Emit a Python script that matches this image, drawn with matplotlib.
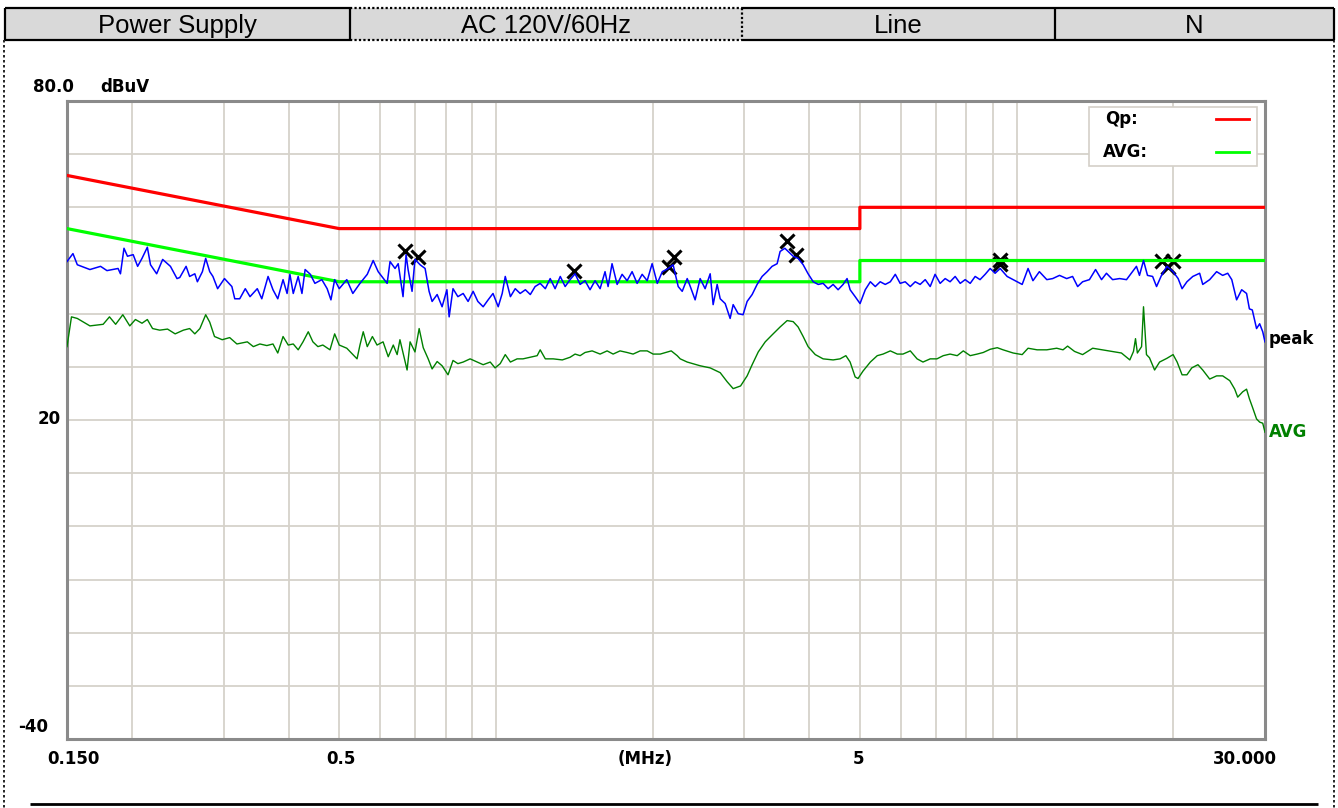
import numpy as np
import matplotlib
matplotlib.use("Agg")
import matplotlib.pyplot as plt
from matplotlib.patches import Rectangle
from matplotlib.ticker import FixedLocator, NullLocator

# ── Header row ────────────────────────────────────────────────────────────────
HEADER_TEXT = ["Power Supply", "AC 120V/60Hz", "Line", "N"]

# ── Limit lines (dBuV vs MHz) ─────────────────────────────────────────────────
qp_lim_f = [0.15, 0.5, 5.0, 5.0, 30.0]
qp_lim_db = [66, 56, 56, 60, 60]
avg_lim_f = [0.15, 0.5, 5.0, 5.0, 30.0]
avg_lim_db = [56, 46, 46, 50, 50]

# ── Peak trace (blue) ─────────────────────────────────────────────────────────
peak_f = [
    0.150, 0.154, 0.157, 0.166, 0.174, 0.179, 0.188, 0.190, 0.193, 0.196,
    0.201, 0.205, 0.209, 0.214, 0.217, 0.223, 0.229, 0.237, 0.244, 0.247,
    0.254, 0.258, 0.264, 0.267, 0.273, 0.277, 0.282, 0.286, 0.292, 0.301,
    0.311, 0.315, 0.322, 0.330, 0.337, 0.348, 0.355, 0.365, 0.373, 0.381,
    0.390, 0.397, 0.402, 0.408, 0.417, 0.424, 0.430, 0.440, 0.449, 0.463,
    0.474, 0.482, 0.490, 0.500, 0.517, 0.531, 0.548, 0.566, 0.581, 0.594,
    0.618, 0.626, 0.640, 0.649, 0.663, 0.672, 0.678, 0.690, 0.699, 0.715,
    0.731, 0.744, 0.754, 0.771, 0.788, 0.805, 0.813, 0.827, 0.845, 0.865,
    0.884, 0.904, 0.923, 0.945, 0.966, 0.987, 1.010, 1.028, 1.042, 1.066,
    1.089, 1.113, 1.139, 1.164, 1.189, 1.216, 1.244, 1.271, 1.299, 1.329,
    1.358, 1.388, 1.419, 1.451, 1.483, 1.516, 1.550, 1.585, 1.620, 1.642,
    1.671, 1.709, 1.747, 1.786, 1.826, 1.867, 1.909, 1.952, 1.995, 2.041,
    2.087, 2.143, 2.189, 2.239, 2.279, 2.330, 2.362, 2.413, 2.467, 2.522,
    2.579, 2.613, 2.660, 2.696, 2.756, 2.817, 2.855, 2.919, 2.983, 3.037,
    3.105, 3.174, 3.245, 3.318, 3.391, 3.468, 3.514, 3.588, 3.641, 3.723,
    3.805, 3.891, 3.977, 4.068, 4.159, 4.250, 4.346, 4.442, 4.541, 4.643,
    4.725, 4.789, 4.897, 5.004, 5.121, 5.237, 5.353, 5.470, 5.594, 5.721,
    5.848, 5.975, 6.110, 6.249, 6.387, 6.527, 6.676, 6.824, 6.973, 7.131,
    7.292, 7.452, 7.621, 7.793, 7.966, 8.145, 8.326, 8.507, 8.702, 8.896,
    9.094, 9.299, 9.590, 9.85, 10.25, 10.52, 10.75, 11.06, 11.43, 11.73,
    12.09, 12.48, 12.81, 13.10, 13.39, 13.80, 14.18, 14.56, 14.88, 15.29,
    15.77, 16.26, 16.70, 16.99, 17.22, 17.53, 17.84, 18.25, 18.57, 18.98,
    19.44, 19.98, 20.43, 20.79, 21.24, 21.80, 22.47, 22.78, 23.49, 24.22,
    24.88, 25.44, 25.90, 26.46, 27.06, 27.65, 28.0, 28.36, 28.9, 29.3,
    29.7, 30.0,
]
peak_db = [
    49.8, 51.3, 49.2, 48.3, 48.9, 48.1, 48.5, 47.5, 52.3, 50.8,
    51.1, 48.9, 50.4, 52.5, 49.2, 47.5, 50.2, 48.9, 46.6, 46.8,
    48.9, 47.0, 47.5, 46.0, 47.9, 50.4, 47.9, 47.0, 44.7, 46.6,
    45.1, 42.8, 42.8, 44.7, 43.2, 44.7, 42.8, 47.0, 44.5, 42.8,
    46.4, 43.8, 47.4, 43.8, 47.0, 43.8, 48.3, 47.4, 45.7, 46.4,
    44.7, 42.6, 46.4, 44.7, 46.4, 43.8, 45.7, 47.4, 50.0, 47.9,
    45.7, 49.8, 48.5, 49.4, 43.2, 51.1, 48.3, 44.2, 50.2, 49.2,
    48.5, 44.2, 42.3, 43.6, 41.3, 44.5, 39.4, 44.7, 43.2, 43.8,
    42.3, 44.2, 42.3, 41.3, 42.6, 43.8, 41.3, 43.8, 47.0, 43.2,
    44.7, 43.8, 44.5, 43.6, 45.1, 45.7, 44.7, 46.6, 44.7, 47.0,
    45.1, 46.4, 47.5, 45.5, 46.2, 44.5, 46.2, 44.7, 47.9, 45.1,
    49.4, 45.5, 47.4, 46.2, 47.9, 45.7, 47.4, 46.2, 49.4, 45.7,
    47.9, 48.5, 49.2, 45.1, 44.2, 46.6, 45.1, 42.6, 46.6, 44.7,
    47.5, 41.7, 45.5, 42.8, 41.9, 39.1, 41.7, 40.0, 39.8, 42.3,
    43.6, 45.5, 47.0, 47.9, 48.9, 49.4, 51.7, 52.3, 51.7, 50.8,
    50.4, 49.2, 47.5, 46.0, 45.5, 45.7, 44.7, 45.5, 44.5, 45.5,
    46.6, 44.5, 43.2, 41.9, 44.5, 46.0, 45.1, 46.0, 45.5, 46.0,
    47.4, 45.7, 46.0, 45.1, 46.0, 45.5, 46.4, 45.1, 47.4, 45.7,
    46.6, 46.0, 47.0, 45.7, 46.4, 45.7, 47.0, 46.4, 47.4, 48.5,
    47.6, 48.5, 47.0, 46.4, 45.5, 48.5, 46.2, 47.9, 46.4, 46.6,
    47.2, 46.6, 47.0, 45.1, 46.0, 46.4, 48.3, 46.4, 47.6, 46.4,
    46.6, 46.4, 47.9, 48.9, 47.2, 50.0, 47.2, 47.0, 45.1, 47.2,
    48.9, 47.9, 46.6, 44.7, 46.0, 47.0, 47.6, 45.5, 46.4, 47.9,
    47.2, 47.6, 46.4, 42.6, 44.5, 43.8, 40.9, 40.7, 37.2, 38.1,
    36.6, 34.7,
]

# ── Average trace (dark green) ────────────────────────────────────────────────
avg_f = [
    0.150, 0.153, 0.157, 0.166, 0.176, 0.181, 0.186, 0.192, 0.198, 0.203,
    0.209, 0.214, 0.219, 0.226, 0.234, 0.242, 0.251, 0.258, 0.264, 0.270,
    0.277, 0.282, 0.288, 0.298, 0.308, 0.318, 0.333, 0.342, 0.352, 0.363,
    0.373, 0.381, 0.390, 0.399, 0.408, 0.417, 0.426, 0.436, 0.445, 0.455,
    0.465, 0.480, 0.490, 0.500, 0.517, 0.529, 0.541, 0.548, 0.556, 0.566,
    0.579, 0.591, 0.607, 0.621, 0.635, 0.646, 0.654, 0.663, 0.675, 0.684,
    0.699, 0.712, 0.725, 0.741, 0.754, 0.771, 0.788, 0.809, 0.827, 0.845,
    0.865, 0.892, 0.920, 0.945, 0.975, 0.996, 1.019, 1.042, 1.066, 1.098,
    1.127, 1.164, 1.200, 1.216, 1.244, 1.288, 1.341, 1.388, 1.419, 1.451,
    1.483, 1.530, 1.585, 1.635, 1.679, 1.731, 1.786, 1.834, 1.892, 1.952,
    2.004, 2.068, 2.171, 2.229, 2.259, 2.330, 2.467, 2.579, 2.696, 2.780,
    2.855, 2.950, 3.037, 3.105, 3.190, 3.290, 3.391, 3.514, 3.625, 3.723,
    3.805, 3.891, 3.977, 4.105, 4.250, 4.442, 4.580, 4.700, 4.789, 4.897,
    4.960, 5.070, 5.237, 5.400, 5.540, 5.721, 5.900, 6.050, 6.249, 6.440,
    6.610, 6.824, 7.030, 7.230, 7.452, 7.690, 7.900, 8.145, 8.400, 8.630,
    8.896, 9.180, 9.420, 9.850, 10.25, 10.52, 10.95, 11.43, 11.94, 12.28,
    12.53, 12.92, 13.39, 14.00, 14.62, 15.29, 15.90, 16.50, 16.77, 16.92,
    17.06, 17.38, 17.53, 17.76, 18.00, 18.41, 18.82, 19.44, 19.98, 20.34,
    20.79, 21.24, 21.70, 22.30, 22.78, 23.49, 24.22, 24.88, 25.67, 26.24,
    26.59, 27.18, 27.65, 28.00, 28.36, 28.90, 29.30, 29.70, 30.00,
]
avg_db = [
    33.8, 39.4, 39.1, 37.7, 38.0, 39.4, 38.0, 39.8, 37.7, 38.9,
    38.2, 38.9, 37.2, 36.9, 37.1, 36.2, 36.9, 37.2, 36.2, 37.2,
    39.8, 38.4, 35.7, 35.1, 35.5, 34.3, 34.7, 33.8, 34.3, 34.0,
    34.3, 32.6, 35.7, 34.1, 34.3, 33.2, 34.7, 36.6, 34.7, 33.8,
    34.1, 33.2, 36.2, 34.1, 33.5, 32.5, 31.5, 34.1, 36.6, 33.8,
    35.7, 34.1, 34.7, 31.9, 34.1, 32.3, 35.1, 32.6, 29.4, 34.7,
    32.8, 37.2, 33.6, 31.5, 29.6, 31.0, 30.2, 28.5, 31.2, 30.6,
    30.9, 31.5, 30.9, 30.4, 30.9, 29.8, 30.6, 32.3, 30.9, 31.5,
    31.5, 31.8, 32.1, 33.2, 31.5, 31.5, 31.3, 31.8, 32.4, 32.1,
    32.7, 33.0, 32.4, 33.0, 32.4, 33.0, 32.7, 32.4, 33.0, 33.0,
    32.4, 32.4, 33.0, 32.1, 31.5, 30.9, 30.2, 29.8, 28.9, 27.2,
    25.9, 26.4, 28.3, 30.4, 32.8, 34.7, 36.0, 37.5, 38.7, 38.5,
    37.5, 35.7, 33.8, 32.3, 31.5, 31.3, 31.5, 32.1, 30.9, 28.1,
    27.8, 29.2, 30.9, 32.1, 32.4, 33.0, 32.4, 32.4, 33.0, 31.5,
    30.9, 31.5, 31.5, 32.1, 32.4, 32.1, 33.0, 32.1, 32.4, 32.7,
    33.3, 33.6, 33.2, 32.6, 32.3, 33.5, 33.2, 33.2, 33.5, 33.2,
    33.9, 32.9, 32.3, 33.5, 33.2, 32.9, 32.6, 31.3, 32.9, 35.3,
    32.6, 33.8, 41.3, 32.3, 31.7, 29.4, 30.9, 31.6, 32.3, 30.9,
    28.5, 28.5, 29.8, 30.4, 29.4, 27.7, 28.3, 28.3, 27.4, 25.8,
    24.3, 25.3, 25.8, 24.0, 22.5, 20.2, 19.6, 19.4, 17.7,
]

# ── Marked peaks (x symbols) ──────────────────────────────────────────────────
mark_f = [0.669, 0.709, 1.413, 2.150, 2.200, 3.625, 3.770, 9.30, 9.30, 19.02, 19.50, 19.98]
mark_db = [51.7, 50.7, 48.1, 48.7, 50.6, 53.6, 51.1, 49.3, 50.1, 49.9, 48.8, 49.9]

# grid positions on the log frequency axis
grid_f = [0.2, 0.3, 0.4, 0.5, 0.6, 0.7, 0.8, 0.9,
          1, 2, 3, 4, 5, 6, 7, 8, 9, 10, 20]
grid_db = list(range(-40, 81, 10))

# ── Styling ───────────────────────────────────────────────────────────────────
W, H = 1338, 808
HDR_FONT = dict(family=["Liberation Sans", "DejaVu Sans"], fontsize=18.5)
LBL_FONT = dict(family=["DejaVu Sans"], fontsize=12, fontweight="bold")
GRID_C = "#d6d2ca"
SPINE_C = "#8a8a8a"

fig = plt.figure(figsize=(W / 100, H / 100), dpi=100)
fig.patch.set_facecolor("white")

# ── Main plot ─────────────────────────────────────────────────────────────────
ax = fig.add_axes([67 / W, 1 - 739 / H, (1265 - 67) / W, (739 - 101) / H])
ax.set_xscale("log")
ax.set_xlim(0.15, 30)
ax.set_ylim(-40, 80)
ax.xaxis.set_major_locator(FixedLocator(grid_f))
ax.xaxis.set_minor_locator(NullLocator())
ax.yaxis.set_major_locator(FixedLocator(grid_db))
ax.grid(True, color=GRID_C, lw=1.3)
ax.tick_params(length=0, labelbottom=False, labelleft=False)
for sp in ax.spines.values():
    sp.set_edgecolor(SPINE_C)
    sp.set_linewidth(2.2)

ax.plot(mark_f, mark_db, "x", color="black", ms=10, mew=2.2, zorder=3)
ax.plot(qp_lim_f, qp_lim_db, color="#ff0000", lw=2.3, zorder=4)
ax.plot(avg_lim_f, avg_lim_db, color="#00ff00", lw=2.3, zorder=4)
ax.plot(avg_f, avg_db, color="#008000", lw=1.0, zorder=5)
ax.plot(peak_f, peak_db, color="#0000ff", lw=1.1, zorder=6)

# ── Page overlay in pixel coordinates (header, labels, legend, frame) ─────────
page = fig.add_axes([0, 0, 1, 1], zorder=10)
page.set_xlim(0, W)
page.set_ylim(H, 0)
page.axis("off")
page.patch.set_visible(False)

edges = [5, 350, 742, 1055, 1334]
top, bot = 8, 40
solid = dict(color="black", lw=1.6, solid_capstyle="butt")
dotted = dict(color="black", lw=1.6, ls=(0, (1, 1)))
styles = [solid, dotted, solid, solid]
for i, txt in enumerate(HEADER_TEXT):
    x0, x1 = edges[i], edges[i + 1]
    page.add_patch(Rectangle((x0, top), x1 - x0, bot - top,
                             facecolor="#d9d9d9", edgecolor="none"))
    st = styles[i]
    page.plot([x0, x1], [top, top], **st)
    page.plot([x0, x1], [bot, bot], **st)
    page.plot([x1, x1], [top, bot], **st)
    page.text((x0 + x1) / 2, 33, txt, ha="center", va="baseline", **HDR_FONT)
page.plot([edges[0], edges[0]], [top, bot], **solid)

# page frame
page.plot([4, 4], [bot, H], color="black", lw=1.2, ls=(0, (1.5, 1.5)))
page.plot([1334, 1334], [bot, H], color="black", lw=1.2, ls=(0, (1.5, 1.5)))
page.plot([30, 1318], [804, 804], color="black", lw=2.0, solid_capstyle="butt")

# axis labels
page.text(33, 92, "80.0", ha="left", va="baseline", **LBL_FONT)
page.text(100, 92, "dBuV", ha="left", va="baseline", **LBL_FONT)
page.text(61, 424, "20", ha="right", va="baseline", **LBL_FONT)
page.text(48, 732, "-40", ha="right", va="baseline", **LBL_FONT)
for xc, s in [(73, "0.150"), (341, "0.5"), (645, "(MHz)"),
              (858, "5"), (1245, "30.000")]:
    page.text(xc, 764, s, ha="center", va="baseline", **LBL_FONT)
page.text(1269, 344, "peak", ha="left", va="baseline", color="black", **LBL_FONT)
page.text(1269, 437, "AVG", ha="left", va="baseline", color="#008000", **LBL_FONT)

# legend box
page.add_patch(Rectangle((1089, 107), 168, 59, facecolor="white",
                         edgecolor="#d4d0c8", lw=1.2))
page.text(1105, 124, "Qp:", ha="left", va="baseline", **LBL_FONT)
page.text(1103, 157, "AVG:", ha="left", va="baseline", **LBL_FONT)
page.plot([1216, 1249], [119, 119], color="#ff0000", lw=2.0)
page.plot([1216, 1249], [152, 152], color="#00ff00", lw=2.0)

fig.savefig("out.png", dpi=100, facecolor="white")
